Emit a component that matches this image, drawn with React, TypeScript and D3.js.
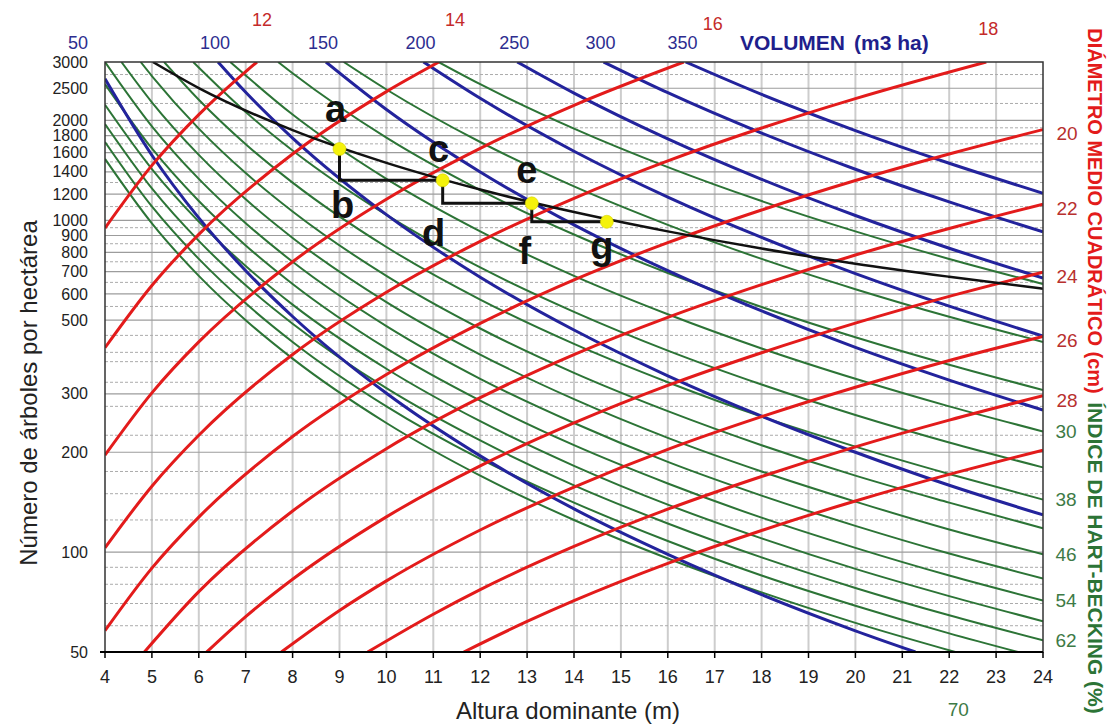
import React from "react";
import * as d3 from "d3";

type Pt = [number, number];

// eje X: altura dominante (m); eje Y: pies por hectárea (log)
const heightTicks = [4, 5, 6, 7, 8, 9, 10, 11, 12, 13, 14, 15, 16, 17, 18, 19, 20, 21, 22, 23, 24];
const densityTicks = [50, 100, 200, 300, 500, 600, 700, 800, 900, 1000, 1200, 1400, 1600, 1800, 2000, 2500, 3000];
const densityMinor = [60, 70, 80, 90, 125, 150, 175, 225, 275, 325, 375, 400, 450, 550, 650, 750, 850, 950, 1100, 1300, 1500, 1700, 1900, 2250, 2750];

// índice de Hart-Becking (%)
const hartBecking: { s: number; pts: Pt[] }[] = [
  { s: 18, pts: [[11.11, 3000], [12, 2572], [14, 1890], [16, 1447], [18, 1143], [20, 926], [22, 765], [24, 643]] },
  { s: 22, pts: [[9.09, 3000], [10, 2479], [12, 1722], [14, 1265], [16, 969], [18, 765], [20, 620], [22, 512], [24, 430]] },
  { s: 26, pts: [[7.69, 3000], [8, 2774], [10, 1775], [12, 1233], [14, 906], [16, 694], [18, 548], [20, 444], [22, 367], [24, 308]] },
  { s: 30, pts: [[6.67, 3000], [8, 2083], [10, 1333], [12, 926], [14, 680], [16, 521], [18, 411], [20, 333], [22, 275], [24, 231]] },
  { s: 34, pts: [[5.88, 3000], [7, 2120], [8, 1623], [10, 1038], [12, 721], [14, 530], [16, 405], [18, 320], [20, 259], [22, 214], [24, 180]] },
  { s: 38, pts: [[5.26, 3000], [6, 2309], [7, 1696], [8, 1299], [10, 831], [12, 577], [14, 424], [16, 325], [18, 256], [20, 208], [22, 172], [24, 144]] },
  { s: 42, pts: [[4.76, 3000], [5, 2722], [6, 1890], [7, 1388], [8, 1063], [10, 680], [12, 472], [14, 347], [16, 266], [18, 210], [20, 170], [22, 141], [24, 118]] },
  { s: 46, pts: [[4.35, 3000], [5, 2268], [6, 1575], [7, 1157], [8, 885], [10, 567], [12, 394], [14, 289], [16, 221], [18, 175], [20, 142], [22, 117], [24, 98.5]] },
  { s: 50, pts: [[4, 3000], [5, 1920], [6, 1333], [7, 980], [8, 750], [10, 480], [12, 333], [14, 245], [16, 187], [18, 148], [20, 120], [22, 99], [24, 83.3]] },
  { s: 54, pts: [[4, 2572], [5, 1646], [6, 1143], [7, 840], [8, 643], [10, 411], [12, 286], [14, 210], [16, 161], [18, 127], [20, 103], [22, 85], [24, 71.5]] },
  { s: 58, pts: [[4, 2229], [5, 1427], [6, 991], [7, 728], [8, 557], [10, 357], [12, 248], [14, 182], [16, 139], [18, 110], [20, 89], [22, 73.7], [24, 61.9]] },
  { s: 62, pts: [[4, 1951], [5, 1248], [6, 867], [7, 637], [8, 488], [10, 312], [12, 217], [14, 159], [16, 122], [18, 96.4], [20, 78], [22, 64.5], [24, 54.2]] },
  { s: 66, pts: [[4, 1722], [5, 1101], [6, 765], [7, 562], [8, 430], [10, 275], [12, 191], [14, 141], [16, 108], [18, 85], [20, 68.9], [22, 56.9], [23.47, 50]] },
  { s: 70, pts: [[4, 1531], [5, 979], [6, 680], [7, 500], [8, 383], [10, 245], [12, 170], [14, 125], [16, 95.7], [18, 75.6], [20, 61.2], [22.13, 50]] },
];
const hartLabelsRight = [30, 38, 46, 54, 62];
const hartLabelBottom = 70;

// volumen (m3/ha)
const volumeLines: { v: number; pts: Pt[] }[] = [
  { v: 50, pts: [[4, 2669], [5, 1571], [6, 1017], [7, 705], [8, 513], [10, 301], [12, 195], [14, 135], [16, 98.5], [18, 74.4], [20, 57.9], [21.28, 50]] },
  { v: 100, pts: [[6.41, 3000], [7, 2431], [8, 1770], [10, 1040], [12, 674], [14, 467], [16, 340], [18, 257], [20, 200], [22, 159], [24, 129.5]] },
  { v: 150, pts: [[8.71, 3000], [10, 2158], [12, 1399], [14, 969], [16, 705], [18, 533], [20, 414], [22, 330], [24, 268]] },
  { v: 200, pts: [[10.79, 3000], [12, 2332], [14, 1615], [16, 1175], [18, 888], [20, 691], [22, 551], [24, 448]] },
  { v: 250, pts: [[12.79, 3000], [14, 2417], [16, 1759], [18, 1329], [20, 1034], [22, 824], [24, 670]] },
  { v: 300, pts: [[14.63, 3000], [16, 2424], [18, 1832], [20, 1425], [22, 1136], [24, 923]] },
  { v: 350, pts: [[16.38, 3000], [18, 2395], [20, 1864], [22, 1486], [24, 1207]] },
];

// diámetro medio cuadrático (cm)
const diameterLines: { d: number; pts: Pt[] }[] = [
  { d: 12, pts: [[4, 948], [5, 1464], [6, 2083], [7, 2807], [7.24, 3000]] },
  { d: 14, pts: [[4, 413], [5, 636], [6, 907], [8, 1584], [10, 2443], [11.12, 3000]] },
  { d: 16, pts: [[4, 196], [5, 302], [6, 430], [8, 750], [10, 1157], [12, 1647], [14, 2222], [16.34, 3000]] },
  { d: 18, pts: [[4, 103], [5, 158], [6, 225], [8, 394], [10, 607], [12, 864], [14, 1165], [16, 1510], [18, 1897], [20, 2327], [22.79, 3000]] },
  { d: 20, pts: [[4, 58], [5, 89.5], [6, 127.5], [8, 223], [10, 343], [12, 489], [14, 661], [16, 856], [18, 1074], [20, 1318], [22, 1585], [24, 1877]] },
  { d: 22, pts: [[4.84, 50], [6, 76], [8, 133], [10, 205], [12, 292], [14, 394], [16, 510], [18, 640], [20, 786], [22, 945], [24, 1119]] },
  { d: 24, pts: [[6.17, 50], [7, 63.9], [8, 82.8], [10, 127.7], [12, 182], [14, 245], [16, 318], [18, 399], [20, 490], [22, 590], [24, 698]] },
  { d: 26, pts: [[7.76, 50], [9, 66.7], [10, 81.9], [12, 116.6], [14, 157], [16, 204], [18, 256], [20, 314], [22, 378], [24, 447]] },
  { d: 28, pts: [[9.6, 50], [11, 65], [12, 77.1], [14, 104], [16, 134.7], [18, 169], [20, 207.6], [22, 250], [24, 296]] },
  { d: 30, pts: [[11.65, 50], [13, 61.8], [14, 71.4], [16, 92.5], [18, 116.2], [20, 142.6], [22, 171.5], [24, 203]] },
];
const diameterLabelsTop = [12, 14, 16, 18];
const diameterLabelsRight = [20, 22, 24, 26, 28];

// línea de densidad límite y esquema de claras a-g
const densityLimit: Pt[] = [[5.02, 3000], [6, 2503], [8, 1869], [10, 1490], [12, 1238], [14, 1059], [16, 926], [18, 822], [20, 740], [22, 676], [24, 622]];
const thinningPath: Pt[] = [[9, 1640], [9, 1320], [11.2, 1320], [11.2, 1125], [13.1, 1125], [13.1, 990], [14.7, 990]];
const thinningNames = ["a", "b", "c", "d", "e", "f", "g"];

const FONT = "'Liberation Sans', Arial, Helvetica, sans-serif";
const RED = "#e31b1b";
const BLUE = "#23239c";
const GREEN = "#2c7436";

export default function App() {
  const width = 1109;
  const height = 728;
  const left = 105, right = 1043, top = 62, bottom = 652;

  const x = d3.scaleLinear().domain([4, 24]).range([left, right]);
  const y = d3.scaleLog().domain([50, 3000]).range([bottom, top]);

  const curve = d3.line<Pt>().x(d => x(d[0])).y(d => y(d[1])).curve(d3.curveMonotoneX);
  const poly = d3.line<Pt>().x(d => x(d[0])).y(d => y(d[1]));

  // label layout
  const topRedDx = [5, 16, 29, 2];
  const topRedY = [26, 26, 30, 35];
  const letterOff: [number, number][] = [[-4, -27], [3, 38], [-4, -18], [-9, 43], [-5, -20], [-7, 42], [-5, 37]];

  return (
    <svg width={width} height={height} style={{ position: "absolute", left: 0, top: 0, background: "#fff" }} fontFamily={FONT}>
      <defs>
        <clipPath id="plot">
          <rect x={left} y={top} width={right - left} height={bottom - top} />
        </clipPath>
      </defs>
      <rect width={width} height={height} fill="#fff" />

      {/* rejilla */}
      <g>
        {heightTicks.slice(1, -1).map(h => (
          <line key={"v" + h} x1={x(h)} x2={x(h)} y1={top} y2={bottom} stroke="#cdcdcd" strokeWidth={2} />
        ))}
        {densityMinor.map(n => (
          <line key={"m" + n} x1={left} x2={right} y1={y(n)} y2={y(n)} stroke="#ababab" strokeWidth={1} strokeDasharray="3 2" />
        ))}
        {densityTicks.slice(1, -1).map(n => (
          <line key={"h" + n} x1={left} x2={right} y1={y(n)} y2={y(n)} stroke="#9c9c9c" strokeWidth={1.2} />
        ))}
      </g>

      <g clipPath="url(#plot)" fill="none">
        {hartBecking.map(l => (
          <path key={"s" + l.s} d={curve(l.pts) || ""} stroke={GREEN} strokeWidth={2} />
        ))}
        {volumeLines.map(l => (
          <path key={"v" + l.v} d={curve(l.pts) || ""} stroke={BLUE} strokeWidth={3} />
        ))}
        {diameterLines.map(l => (
          <path key={"d" + l.d} d={curve(l.pts) || ""} stroke={RED} strokeWidth={3} />
        ))}
        <path d={curve(densityLimit) || ""} stroke="#111" strokeWidth={2.5} />
        <path d={poly(thinningPath) || ""} stroke="#111" strokeWidth={3} />
      </g>

      {thinningPath.map((p, i) =>
        i % 2 === 0 ? <circle key={"pt" + i} cx={x(p[0])} cy={y(p[1])} r={6.5} fill="#f4f20c" stroke="#d6d400" strokeWidth={0.6} /> : null
      )}
      {thinningPath.map((p, i) => (
        <text key={"lt" + i} x={x(p[0]) + letterOff[i][0]} y={y(p[1]) + letterOff[i][1]} fontSize={38} fontWeight="bold" fill="#111" textAnchor="middle">
          {thinningNames[i]}
        </text>
      ))}

      {/* marco y eje inferior */}
      <rect x={left} y={top} width={right - left} height={bottom - top} fill="none" stroke="#333" strokeWidth={1.5} />
      <line x1={left - 5} x2={right} y1={bottom} y2={bottom} stroke="#000" strokeWidth={2} />
      {heightTicks.map(h => (
        <g key={"xt" + h}>
          <line x1={x(h)} x2={x(h)} y1={bottom} y2={bottom + 6} stroke="#000" strokeWidth={1.5} />
          <text x={x(h)} y={683} fontSize={18} fill="#222" textAnchor="middle">{h}</text>
        </g>
      ))}
      {densityTicks.map(n => (
        <text key={"yt" + n} x={88} y={y(n)} dy="0.35em" fontSize={16} fill="#222" textAnchor="end">{n}</text>
      ))}

      <text x={568} y={719} fontSize={24} fill="#222" textAnchor="middle">Altura dominante (m)</text>
      <text transform="translate(37,393) rotate(-90)" fontSize={24} fill="#222" textAnchor="middle">Número de árboles por hectárea</text>

      {/* etiquetas de volumen */}
      {volumeLines.map(l => {
        const p0 = l.pts[0];
        const lx = p0[1] >= 3000 ? x(p0[0]) - 3 : left - 27;
        return <text key={"vl" + l.v} x={lx} y={49} fontSize={18} fill="#2d2d8f" textAnchor="middle">{l.v}</text>;
      })}
      <text x={740} y={50} fontSize={21} fontWeight="bold" fill="#1f1f8c">
        VOLUMEN<tspan dx={9}>(m3 ha)</tspan>
      </text>

      {/* etiquetas de diámetro */}
      {diameterLabelsTop.map((d, i) => {
        const l = diameterLines.find(k => k.d === d)!;
        const pl = l.pts[l.pts.length - 1];
        return <text key={"dt" + d} x={x(pl[0]) + topRedDx[i]} y={topRedY[i]} fontSize={18} fill="#c42a2a" textAnchor="middle">{d}</text>;
      })}
      {diameterLabelsRight.map(d => {
        const l = diameterLines.find(k => k.d === d)!;
        const pl = l.pts[l.pts.length - 1];
        return <text key={"dr" + d} x={1067} y={y(pl[1]) + 4} dy="0.36em" fontSize={19} fill="#b8302e" textAnchor="middle">{d}</text>;
      })}

      {/* etiquetas Hart-Becking */}
      {hartLabelsRight.map(s => {
        const l = hartBecking.find(k => k.s === s)!;
        const pl = l.pts[l.pts.length - 1];
        return <text key={"hr" + s} x={1066} y={y(pl[1])} dy="0.36em" fontSize={19} fill="#3d7a46" textAnchor="middle">{s}</text>;
      })}
      {(() => {
        const l = hartBecking.find(k => k.s === hartLabelBottom)!;
        const pl = l.pts[l.pts.length - 1];
        return <text x={x(pl[0]) + 3} y={716} fontSize={19} fill="#3d7a46" textAnchor="middle">{hartLabelBottom}</text>;
      })()}

      <text transform="translate(1088,211) rotate(90)" fontSize={20} fontWeight="bold" fill={RED} textAnchor="middle">
        DIÁMETRO MEDIO CUADRÁTICO (cm)
      </text>
      <text transform="translate(1088,558) rotate(90)" fontSize={21} fontWeight="bold" fill={GREEN} textAnchor="middle">
        ÍNDICE DE HART-BECKING (%)
      </text>
    </svg>
  );
}
